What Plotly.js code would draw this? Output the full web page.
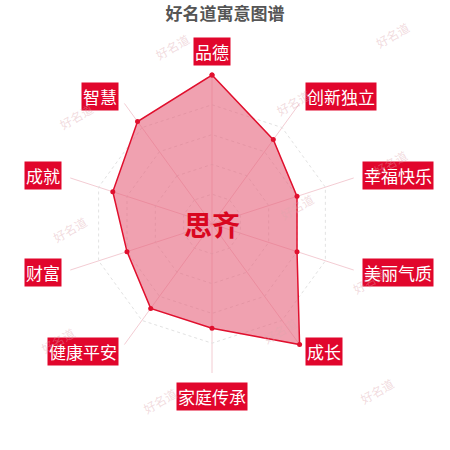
<!DOCTYPE html>
<html>
<head>
<meta charset="utf-8">
<script src="https://cdn.plot.ly/plotly-3.0.1.min.js"></script>
<style>
  html, body { margin: 0; padding: 0; background: #fff; }
  #chart { width: 450px; height: 450px; }
</style>
</head>
<body>
<div id="chart"></div>
<script>
// axes, clockwise from the top
const categories = ['品德', '创新独立', '幸福快乐', '美丽气质', '成长', '家庭传承', '健康平安', '财富', '成就', '智慧'];
const scores = [100, 70, 60, 60, 100, 70, 70, 60, 70, 85];
const gridTicks = [20, 40, 60, 80, 100];
const nameText = '思齐';
const chartTitle = '好名道寓意图谱';

// faint watermark spots (pixels from top-left)
const markSpots = [[172, 27], [415, 15], [53, 97], [293, 83], [413, 143], [47, 230],
                   [297, 207], [392, 280], [35, 360], [280, 350], [160, 420], [400, 410]];

const W = 450, H = 450;
const cx = 212, cy = 224, R = 149; // polar centre and radius in px
const labelGap = 158;              // px from centre to label box edge

const annotations = [];

categories.forEach(function(name, i) {
    const ang = i * 2 * Math.PI / categories.length; // clockwise from top
    const s = Math.sin(ang), c = Math.cos(ang);
    const px = cx + labelGap * s;
    const py = cy - labelGap * c;
    let xa = 'center', ya = 'middle';
    if (s > 0.1) xa = 'left';
    else if (s < -0.1) xa = 'right';
    else ya = c > 0 ? 'bottom' : 'top';
    annotations.push({
        text: name, x: px / W, y: 1 - py / H, xref: 'paper', yref: 'paper',
        xanchor: xa, yanchor: ya, showarrow: false,
        bgcolor: '#e1062c', borderpad: 1,
        font: { family: 'Noto Sans CJK SC', size: 17, color: '#fff' }
    });
});

markSpots.forEach(function(p) {
    annotations.push({
        text: '好名道', x: p[0] / W, y: 1 - p[1] / H, xref: 'paper', yref: 'paper',
        showarrow: false, textangle: -30,
        font: { family: 'Noto Sans CJK SC', size: 12, color: 'rgba(220,165,172,0.4)' }
    });
});

// name in the middle
annotations.push({
    text: '<b>' + nameText + '</b>', x: cx / W, y: 1 - cy / H, xref: 'paper', yref: 'paper',
    showarrow: false,
    font: { family: 'Noto Sans CJK SC', size: 28, color: '#d9061f' }
});

const trace = {
    type: 'scatterpolar',
    r: scores.concat([scores[0]]),
    theta: categories.concat([categories[0]]),
    mode: 'lines+markers',
    fill: 'toself',
    fillcolor: 'rgba(230,98,124,0.6)',
    line: { color: '#e0102e', width: 1.5 },
    marker: { color: '#e0102e', size: 5 },
    hoverinfo: 'skip'
};

const layout = {
    width: W, height: H,
    margin: { l: 0, r: 0, t: 0, b: 0 },
    paper_bgcolor: '#fff',
    showlegend: false,
    title: {
        text: '<b>' + chartTitle + '</b>',
        x: 0.5, xanchor: 'center', y: 1 - 14 / H, yanchor: 'middle',
        font: { family: 'Noto Sans CJK SC', size: 17, color: '#555' }
    },
    polar: {
        domain: { x: [(cx - R) / W, (cx + R) / W], y: [1 - (cy + R) / H, 1 - (cy - R) / H] },
        bgcolor: 'rgba(0,0,0,0)',
        gridshape: 'linear',
        radialaxis: {
            range: [0, 100], tickvals: gridTicks, showticklabels: false, ticks: '',
            showline: false, gridcolor: '#e2e2e2', griddash: 'dot', gridwidth: 1
        },
        angularaxis: {
            rotation: 90, direction: 'clockwise', showticklabels: false, ticks: '',
            showline: false, gridcolor: 'rgba(235,170,182,0.6)', gridwidth: 1
        }
    },
    annotations: annotations
};

Plotly.newPlot('chart', [trace], layout, { displayModeBar: false, staticPlot: true });
</script>
</body>
</html>
